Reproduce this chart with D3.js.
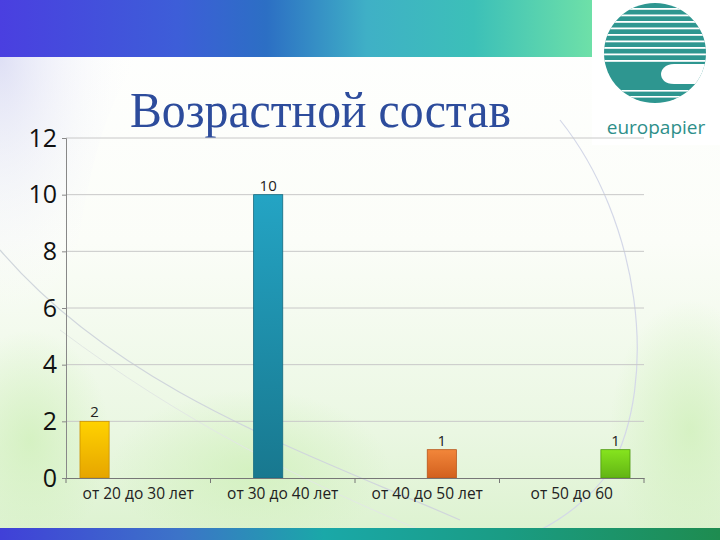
<!DOCTYPE html>
<html>
<head>
<meta charset="utf-8">
<script src="https://cdn.jsdelivr.net/npm/d3@7"></script>
<style>
  body { margin: 0; background: #fff; }
  svg { display: block; }
</style>
</head>
<body>
<svg width="720" height="540"></svg>
<script>
// данные диаграммы
var categories = ['от 20 до 30 лет', 'от 30 до 40 лет', 'от 40 до 50 лет', 'от 50 до 60'];
var seriesNames = ['s1', 's2', 's3', 's4'];
var seriesValues = [
  [2, null, null, null],
  [null, 10, null, null],
  [null, null, 1, null],
  [null, null, null, 1]
];
var yTicks = [0, 2, 4, 6, 8, 10, 12];
var seriesColors = [
  ['#ffd200', '#e6a500', '#c99000'],
  ['#24a4c4', '#18788f', '#146a80'],
  ['#f2863a', '#d2601e', '#b8561c'],
  ['#86e41e', '#62b414', '#4f9a10']
];

var svg = d3.select('svg');
var defs = svg.append('defs');

// фон слайда
var bg = defs.append('linearGradient').attr('id', 'bg').attr('x1', 0).attr('y1', 0).attr('x2', 0).attr('y2', 1);
bg.append('stop').attr('offset', '0%').attr('stop-color', '#ffffff');
bg.append('stop').attr('offset', '45%').attr('stop-color', '#fbfdf8');
bg.append('stop').attr('offset', '80%').attr('stop-color', '#eaf7e2');
bg.append('stop').attr('offset', '100%').attr('stop-color', '#dcf2cf');
svg.append('rect').attr('width', 720).attr('height', 540).attr('fill', 'url(#bg)');

// лёгкие зелёные пятна
var glow = defs.append('radialGradient').attr('id', 'glow');
glow.append('stop').attr('offset', '0%').attr('stop-color', '#cdefb6').attr('stop-opacity', 0.7);
glow.append('stop').attr('offset', '100%').attr('stop-color', '#cdefb6').attr('stop-opacity', 0);
svg.append('ellipse').attr('cx', 250).attr('cy', 470).attr('rx', 140).attr('ry', 80).attr('fill', 'url(#glow)');
svg.append('ellipse').attr('cx', 30).attr('cy', 440).attr('rx', 80).attr('ry', 110).attr('fill', 'url(#glow)');
svg.append('ellipse').attr('cx', 690).attr('cy', 430).attr('rx', 80).attr('ry', 130).attr('fill', 'url(#glow)');

// сиреневая волна слева
var lav = defs.append('radialGradient').attr('id', 'lav').attr('cx', 0).attr('cy', 0).attr('r', 1);
lav.append('stop').attr('offset', '0%').attr('stop-color', '#c4c6ee').attr('stop-opacity', 0.55);
lav.append('stop').attr('offset', '100%').attr('stop-color', '#ffffff').attr('stop-opacity', 0);
svg.append('path').attr('d', 'M0,57 L140,57 C100,110 80,200 70,320 L0,330 Z').attr('fill', 'url(#lav)');

// тонкие дуги
svg.append('path').attr('d', 'M0,250 C120,390 300,450 460,520').attr('fill', 'none').attr('stroke', '#d0d6dc').attr('stroke-width', 1.2);
svg.append('path').attr('d', 'M60,330 C180,420 300,480 420,530').attr('fill', 'none').attr('stroke', '#e2e8e4').attr('stroke-width', 1);
svg.append('path').attr('d', 'M560,120 C640,220 660,380 610,470 C590,500 560,520 540,530').attr('fill', 'none').attr('stroke', '#d4d8e8').attr('stroke-width', 1.2);

// верхняя полоса
var topBand = defs.append('linearGradient').attr('id', 'topband').attr('x1', 0).attr('y1', 0).attr('x2', 1).attr('y2', 0);
[['0%', '#4a3fe0'], ['30%', '#3d5ed8'], ['45%', '#2c6fc4'], ['62%', '#3fb0c6'], ['80%', '#3cc0b8'], ['100%', '#6ee0a8']]
  .forEach(function(s) { topBand.append('stop').attr('offset', s[0]).attr('stop-color', s[1]); });
svg.append('rect').attr('x', 0).attr('y', 0).attr('width', 592).attr('height', 57).attr('fill', 'url(#topband)');

// нижняя полоса
var botBand = defs.append('linearGradient').attr('id', 'botband').attr('x1', 0).attr('y1', 0).attr('x2', 1).attr('y2', 0);
[['0%', '#4040d8'], ['25%', '#3c74c8'], ['45%', '#1aa8a8'], ['70%', '#1a9c84'], ['100%', '#1e8c50']]
  .forEach(function(s) { botBand.append('stop').attr('offset', s[0]).attr('stop-color', s[1]); });
svg.append('rect').attr('x', 0).attr('y', 528).attr('width', 720).attr('height', 12).attr('fill', 'url(#botband)');

// логотип europapier
svg.append('rect').attr('x', 592).attr('y', 0).attr('width', 128).attr('height', 145).attr('fill', '#ffffff');
defs.append('clipPath').attr('id', 'logoclip')
  .append('ellipse').attr('cx', 655).attr('cy', 53).attr('rx', 51).attr('ry', 50);
var lg = svg.append('g').attr('clip-path', 'url(#logoclip)');
lg.append('rect').attr('x', 600).attr('y', 0).attr('width', 110).attr('height', 110).attr('fill', '#2e9690');
d3.range(8, 64, 6.5).forEach(function(yy) {
  lg.append('rect').attr('x', 600).attr('y', yy).attr('width', 110).attr('height', 1.8).attr('fill', '#ffffff');
});
lg.append('rect').attr('x', 600).attr('y', 90).attr('width', 110).attr('height', 1.6).attr('fill', '#ffffff');
lg.append('rect').attr('x', 600).attr('y', 96).attr('width', 110).attr('height', 1.6).attr('fill', '#ffffff');
lg.append('path').attr('d', 'M710,64 L674,64 C665,64 661,70 661,74 C661,79 665,84 674,84 L710,84 Z').attr('fill', '#ffffff');
svg.append('text').attr('x', 656).attr('y', 134).attr('text-anchor', 'middle')
  .attr('font-family', 'Open Sans, sans-serif').attr('font-size', 19).attr('fill', '#2e8f8a')
  .text('europapier');

// заголовок
svg.append('text').attr('x', 130).attr('y', 127)
  .attr('font-family', 'Liberation Serif, serif').attr('font-size', 50).attr('fill', '#2d4c9c')
  .attr('textLength', 381).attr('lengthAdjust', 'spacingAndGlyphs')
  .text('Возрастной состав');

// диаграмма
var margin = {left: 66, top: 138, right: 76, bottom: 62};
var width = 720 - margin.left - margin.right;
var height = 540 - margin.top - margin.bottom;
var g = svg.append('g').attr('transform', 'translate(' + margin.left + ',' + margin.top + ')');

var x0 = d3.scaleBand().domain(categories).range([0, width]).paddingInner(0).paddingOuter(0);
var x1 = d3.scaleBand().domain(seriesNames).range([0, x0.bandwidth()]).paddingOuter(0.48).paddingInner(0);
var y = d3.scaleLinear().domain([0, 12]).range([height, 0]);

// сетка
g.selectAll('.grid').data(yTicks.slice(1)).enter().append('line')
  .attr('x1', 0).attr('x2', width)
  .attr('y1', function(d) { return y(d); }).attr('y2', function(d) { return y(d); })
  .attr('stroke', '#c8c8c8').attr('stroke-width', 1);

// столбцы
seriesNames.forEach(function(s, i) {
  var grad = defs.append('linearGradient').attr('id', 'bar' + i).attr('x1', 0).attr('y1', 0).attr('x2', 0).attr('y2', 1);
  grad.append('stop').attr('offset', '0%').attr('stop-color', seriesColors[i][0]);
  grad.append('stop').attr('offset', '100%').attr('stop-color', seriesColors[i][1]);
  var data = categories.map(function(c, j) { return {cat: c, v: seriesValues[i][j]}; })
    .filter(function(d) { return d.v != null; });
  g.selectAll('.bar' + i).data(data).enter().append('rect')
    .attr('x', function(d) { return x0(d.cat) + x1(s); })
    .attr('y', function(d) { return y(d.v); })
    .attr('width', x1.bandwidth())
    .attr('height', function(d) { return height - y(d.v); })
    .attr('fill', 'url(#bar' + i + ')')
    .attr('stroke', seriesColors[i][2]).attr('stroke-width', 0.8);
  g.selectAll('.lbl' + i).data(data).enter().append('text')
    .attr('x', function(d) { return x0(d.cat) + x1(s) + x1.bandwidth() / 2; })
    .attr('y', function(d) { return y(d.v) - 4; })
    .attr('text-anchor', 'middle')
    .attr('font-family', 'Open Sans, sans-serif').attr('font-size', 15).attr('fill', '#222')
    .text(function(d) { return d.v; });
});

// оси
var yAxis = g.append('g').call(d3.axisLeft(y).tickValues(yTicks).tickSize(4).tickPadding(5));
yAxis.select('.domain').attr('stroke', '#888');
yAxis.selectAll('.tick line').attr('stroke', '#888');
yAxis.selectAll('text').attr('font-family', 'Open Sans, sans-serif').attr('font-size', 25).attr('fill', '#111');

var xAxis = g.append('g').attr('transform', 'translate(0,' + height + ')')
  .call(d3.axisBottom(x0).tickSize(0).tickPadding(10));
xAxis.select('.domain').attr('stroke', '#777');
xAxis.selectAll('text').attr('font-family', 'Open Sans, sans-serif').attr('font-size', 15.5).attr('fill', '#222');
g.selectAll('.xtick').data(d3.range(categories.length + 1)).enter().append('line')
  .attr('x1', function(d) { return d * x0.bandwidth(); }).attr('x2', function(d) { return d * x0.bandwidth(); })
  .attr('y1', height).attr('y2', height + 5).attr('stroke', '#777');
</script>
</body>
</html>
